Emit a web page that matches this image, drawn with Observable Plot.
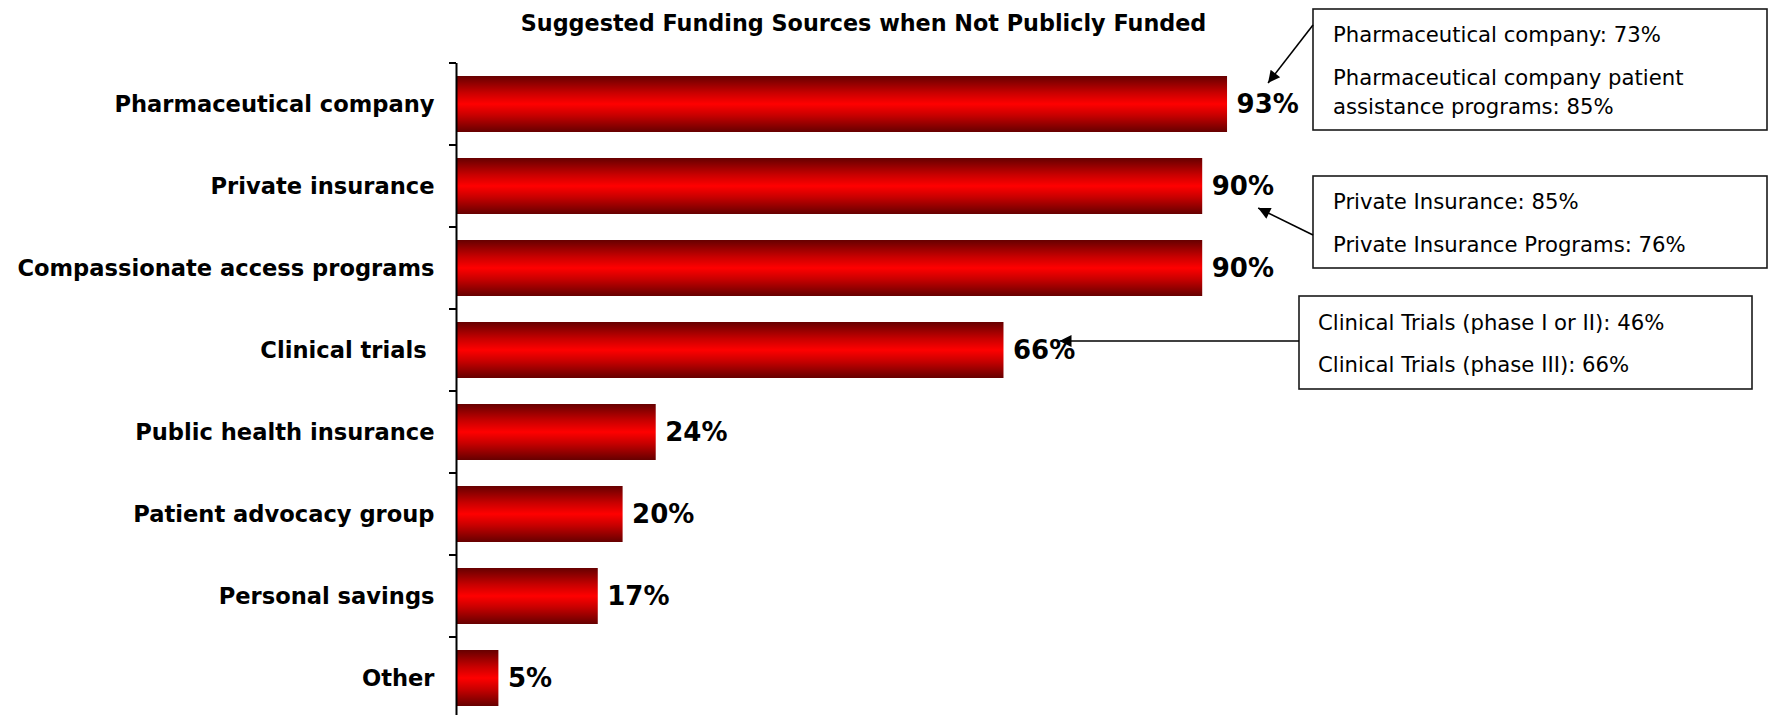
<!DOCTYPE html>
<html><head><meta charset="utf-8">
<script src="https://cdn.jsdelivr.net/npm/d3@7"></script>
<script src="https://cdn.jsdelivr.net/npm/@observablehq/plot@0.6"></script>
<style>body{margin:0;background:#fff}</style>
</head><body><div id="chart"></div>
<script>
const chartTitle = "Suggested Funding Sources when Not Publicly Funded";
const categories = ["Pharmaceutical company", "Private insurance", "Compassionate access programs", "Clinical trials\u00a0", "Public health insurance", "Patient advocacy group", "Personal savings", "Other"];
const values = [0.93, 0.90, 0.90, 0.66, 0.24, 0.20, 0.17, 0.05];
const valueLabels = ["93%", "90%", "90%", "66%", "24%", "20%", "17%", "5%"];

const noteTargets = ["Pharmaceutical company", "Private insurance", "Clinical trials\u00a0"];
const noteTexts = [
  ["Pharmaceutical company: 73%", "Pharmaceutical company patient", "assistance programs: 85%"],
  ["Private Insurance: 85%", "Private Insurance Programs: 76%"],
  ["Clinical Trials (phase I or II): 46%", "Clinical Trials (phase III): 66%"]
];

const data = categories.map((c, i) => ({category: c, value: values[i], label: valueLabels[i]}));
const notes = noteTargets.map((c, i) => ({category: c, value: values[categories.indexOf(c)], lines: noteTexts[i]}));

const BOLD = "DejaVu Sans";
// layout of the annotation boxes (pixels)
const noteLayout = [
  {box: [1313, 9, 1767, 130], lineY: [35, 78, 107], textX: 1333, from: [1313, 25], to: [41, -21]},
  {box: [1313, 176, 1767, 268], lineY: [202, 245], textX: 1333, from: [1313, 235], to: [56, 22]},
  {box: [1299, 296, 1752, 389], lineY: [323, 365], textX: 1318, from: [1299, 341], to: [56, -9]}
];

function gradientDefs() {
  const defs = d3.create("svg:defs");
  const g = defs.append("linearGradient").attr("id", "barGrad")
    .attr("x1", 0).attr("y1", 0).attr("x2", 0).attr("y2", 1);
  [[0, "#660000"], [0.3, "#c80000"], [0.5, "#ff0000"], [0.7, "#c80000"], [1, "#660000"]]
    .forEach(([o, c]) => g.append("stop").attr("offset", o).attr("stop-color", c));
  const m = defs.append("marker").attr("id", "ahead").attr("viewBox", "0 0 10 10")
    .attr("refX", 10).attr("refY", 5).attr("markerWidth", 15).attr("markerHeight", 12)
    .attr("markerUnits", "userSpaceOnUse").attr("orient", "auto");
  m.append("path").attr("d", "M0,0L10,5L0,10z").attr("fill", "#000");
  return defs.node();
}

function categoryTicks(index, scales) {
  const y = scales.y;
  const step = y.step(), bw = y.bandwidth();
  const bounds = categories.map(c => y(c) - (step - bw) / 2);
  bounds.push(bounds[bounds.length - 1] + step);
  const x0 = scales.x(0) - 1;
  const g = d3.create("svg:g").attr("stroke", "#000").attr("stroke-width", 2);
  bounds.forEach(b => g.append("line").attr("x1", x0 - 7).attr("x2", x0).attr("y1", b).attr("y2", b));
  return g.node();
}

function annotations(index, scales) {
  const g = d3.create("svg:g");
  notes.forEach((n, i) => {
    const L = noteLayout[i];
    const [bx0, by0, bx1, by1] = L.box;
    g.append("rect").attr("x", bx0).attr("y", by0).attr("width", bx1 - bx0).attr("height", by1 - by0)
      .attr("fill", "#fff").attr("stroke", "#1a1a1a").attr("stroke-width", 1.6);
    n.lines.forEach((t, k) => {
      g.append("text").attr("x", L.textX).attr("y", L.lineY[k]).attr("dy", "0.35em")
        .attr("text-anchor", "start")
        .attr("font-family", "DejaVu Sans").attr("font-size", 21.2).attr("fill", "#000").text(t);
    });
    const tx = scales.x(n.value) + L.to[0];
    const ty = scales.y(n.category) + scales.y.bandwidth() / 2 + L.to[1];
    g.append("line").attr("x1", L.from[0]).attr("y1", L.from[1]).attr("x2", tx).attr("y2", ty)
      .attr("stroke", "#000").attr("stroke-width", 1.6).attr("marker-end", "url(#ahead)");
  });
  return g.node();
}

const plot = Plot.plot({
  width: 1769, height: 715,
  marginLeft: 457, marginRight: 484, marginTop: 63, marginBottom: 0,
  style: {fontFamily: BOLD, background: "#fff", color: "#000"},
  x: {domain: [0, 1], axis: null},
  y: {domain: categories, range: [62.7, 718.7], paddingInner: 0.32, paddingOuter: 0.16, axis: null},
  marks: [
    gradientDefs,
    Plot.barX(data, {x: "value", y: "category", fill: "url(#barGrad)"}),
    Plot.ruleX([0], {stroke: "#000", strokeWidth: 2, dx: -1}),
    categoryTicks,
    Plot.text(data, {x: 0, y: "category", text: "category", textAnchor: "end", dx: -23,
      fontSize: 22.6, fontWeight: "bold", fontFamily: BOLD, fill: "#000"}),
    Plot.text(data, {x: "value", y: "category", text: "label", textAnchor: "start", dx: 9,
      fontSize: 26, fontWeight: "bold", fontFamily: BOLD, fill: "#000"}),
    Plot.text([chartTitle], {frameAnchor: "top", dx: -8, dy: -48, text: d => d,
      fontSize: 22.3, fontWeight: "bold", fontFamily: BOLD, fill: "#000"}),
    annotations
  ]
});
document.getElementById("chart").appendChild(plot);
</script>
</body></html>
